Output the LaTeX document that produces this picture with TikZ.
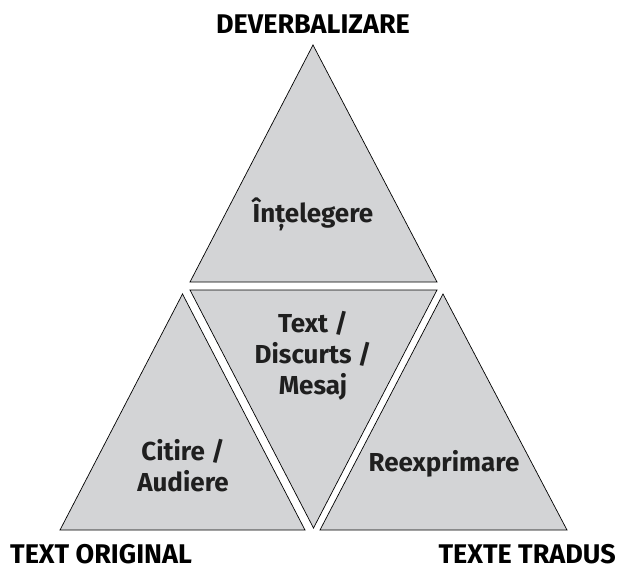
\documentclass[tikz,border=0pt]{standalone}
\usepackage{fontspec}
\setmainfont{Fira Sans}
\begin{document}
\begin{tikzpicture}[x=1pt,y=-1pt,
  tri/.style={draw=black,line width=0.7pt,fill=trigray,line join=miter},
  lbl/.style={font=\bfseries\fontsize{26}{31}\selectfont,align=center,inner sep=0pt,text=black!88},
  head/.style={font=\bfseries\fontsize{27}{30}\selectfont,inner sep=0pt,text=black,text depth=0pt}]
\definecolor{trigray}{RGB}{211,212,214}
\useasboundingbox (0,0) rectangle (619,571);
% triangles
\draw[tri] (190,282) -- (437,282) -- (313,45) -- cycle;
\draw[tri] (190,290) -- (437,290) -- (313.5,528) -- cycle;
\draw[tri] (60,530) -- (305,530) -- (182.5,294) -- cycle;
\draw[tri] (320,530) -- (567,530) -- (443,294) -- cycle;
% labels
\node[head,anchor=base] (deverb) at (313,33) {DEVERBALIZARE};
\node[head,anchor=base west] (orig) at (10,563) {TEXT ORIGINAL};
\node[head,anchor=base east] (trad) at (616,563) {TEXTE TRADUS};
\node[lbl] (intel) at (313,214) {Înțelegere};
\node[lbl] (text) at (313,356) {Text /\\Discurts /\\Mesaj};
\node[lbl] (citire) at (183,466) {Citire /\\Audiere};
\node[lbl] (reexp) at (444,464) {Reexprimare};
\end{tikzpicture}
\end{document}
